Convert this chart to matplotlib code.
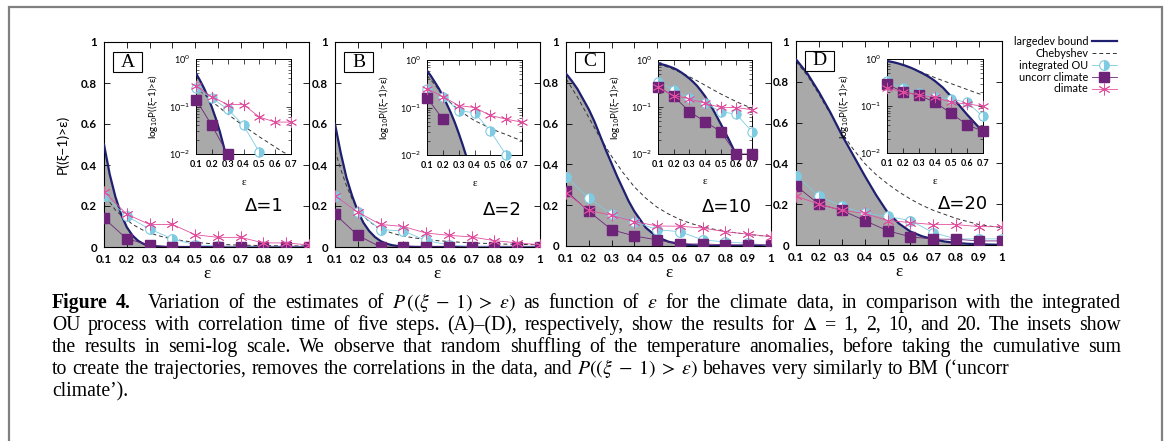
import numpy as np
import matplotlib
matplotlib.use("Agg")
import matplotlib.pyplot as plt
from matplotlib.patches import Rectangle

# ---------------- data ----------------
eps_pts = [0.1, 0.2, 0.3, 0.4, 0.5, 0.6, 0.7, 0.8, 0.9, 1.0]
eps_curve = [0.1, 0.125, 0.15, 0.175, 0.2, 0.225, 0.25, 0.275, 0.3, 0.325, 0.35, 0.375,
             0.4, 0.45, 0.5, 0.55, 0.6, 0.65, 0.7, 0.75, 0.8, 0.85, 0.9, 0.95, 1.0]

panel_letters = ["A", "B", "C", "D"]
delta_labels = ["\u0394=1", "\u0394=2", "\u0394=10", "\u0394=20"]

largedev_A = [0.50, 0.355, 0.245, 0.16, 0.097, 0.056, 0.030, 0.0145, 0.0066, 0.0028, 0.0011, 0.0004,
              0.00015, 5e-5, 5e-5, 5e-5, 5e-5, 5e-5, 5e-5, 5e-5, 5e-5, 5e-5, 5e-5, 5e-5, 5e-5]
largedev_B = [0.60, 0.46, 0.34, 0.25, 0.175, 0.118, 0.078, 0.049, 0.029, 0.0165, 0.009, 0.0048,
              0.0025, 0.0006, 0.00012, 5e-5, 5e-5, 5e-5, 5e-5, 5e-5, 5e-5, 5e-5, 5e-5, 5e-5, 5e-5]
largedev_C = [0.845, 0.81, 0.77, 0.72, 0.67, 0.61, 0.54, 0.47, 0.405, 0.34, 0.28, 0.22,
              0.17, 0.09, 0.044, 0.021, 0.0095, 0.004, 0.0016, 0.0006, 0.0002, 5e-5, 5e-5, 5e-5, 5e-5]
largedev_D = [0.91, 0.875, 0.84, 0.795, 0.75, 0.70, 0.65, 0.595, 0.54, 0.49, 0.44, 0.39,
              0.34, 0.245, 0.16, 0.105, 0.066, 0.043, 0.028, 0.017, 0.010, 0.006, 0.0035, 0.002, 0.001]

cheb_A = [0.28, 0.22, 0.18, 0.155, 0.135, 0.11, 0.095, 0.08, 0.07, 0.06, 0.052, 0.045,
          0.039, 0.03, 0.023, 0.018, 0.014, 0.011, 0.009, 0.008, 0.007, 0.006, 0.0055, 0.005, 0.0045]
cheb_B = [0.47, 0.38, 0.30, 0.235, 0.185, 0.15, 0.125, 0.105, 0.09, 0.078, 0.068, 0.06,
          0.053, 0.044, 0.037, 0.031, 0.027, 0.023, 0.020, 0.018, 0.016, 0.014, 0.013, 0.012, 0.011]
cheb_C = [0.82, 0.775, 0.73, 0.68, 0.63, 0.58, 0.53, 0.485, 0.44, 0.40, 0.36, 0.325,
          0.29, 0.235, 0.19, 0.157, 0.13, 0.11, 0.094, 0.082, 0.072, 0.064, 0.057, 0.051, 0.047]
cheb_D = [0.90, 0.865, 0.83, 0.785, 0.74, 0.69, 0.645, 0.595, 0.55, 0.51, 0.47, 0.435,
          0.40, 0.345, 0.30, 0.26, 0.225, 0.195, 0.17, 0.15, 0.13, 0.115, 0.10, 0.092, 0.085]

ou_A = [0.25, 0.15, 0.088, 0.04, 0.011, 0.004, 0.002, 0.001, 0.001, 0.001]
ou_B = [0.25, 0.17, 0.085, 0.078, 0.032, 0.010, 0.002, 0.001, 0.001, 0.001]
ou_C = [0.34, 0.235, 0.155, 0.12, 0.08, 0.07, 0.03, 0.02, 0.013, 0.002]
ou_D = [0.34, 0.24, 0.19, 0.155, 0.14, 0.12, 0.06, 0.03, 0.03, 0.03]

uncorr_A = [0.14, 0.04, 0.01, 0.0, 0.0, 0.0, 0.0, 0.0, 0.0, 0.0]
uncorr_B = [0.16, 0.057, 0.0, 0.0, 0.0, 0.0, 0.0, 0.0, 0.0, 0.0]
uncorr_C = [0.27, 0.17, 0.08, 0.049, 0.03, 0.01, 0.01, 0.006, 0.006, 0.006]
uncorr_D = [0.29, 0.20, 0.17, 0.12, 0.07, 0.04, 0.029, 0.028, 0.02, 0.02]

climate_A = [0.27, 0.16, 0.11, 0.11, 0.06, 0.047, 0.047, 0.02, 0.02, 0.01]
climate_B = [0.25, 0.17, 0.11, 0.10, 0.068, 0.057, 0.049, 0.031, 0.02, 0.011]
climate_C = [0.26, 0.175, 0.15, 0.12, 0.098, 0.097, 0.088, 0.07, 0.058, 0.046]
climate_D = [0.24, 0.20, 0.17, 0.155, 0.12, 0.11, 0.10, 0.10, 0.09, 0.09]

main_xticks = [0.1, 0.2, 0.3, 0.4, 0.5, 0.6, 0.7, 0.8, 0.9, 1.0]
main_xticklabels = ["0.1", "0.2", "0.3", "0.4", "0.5", "0.6", "0.7", "0.8", "0.9", "1"]
main_yticks = [0, 0.2, 0.4, 0.6, 0.8, 1.0]
main_yticklabels = ["0", "0.2", "0.4", "0.6", "0.8", "1"]
inset_xticks = [0.1, 0.2, 0.3, 0.4, 0.5, 0.6, 0.7]
inset_xticklabels = ["0.1", "0.2", "0.3", "0.4", "0.5", "0.6", "0.7"]
inset_yticks = [1e-2, 1e-1, 1e0]
inset_yticklabels = ["10$^{-2}$", "10$^{-1}$", "10$^{0}$"]

legend_labels = ["largedev bound", "Chebyshev", "integrated OU", "uncorr climate", "climate"]

caption_bold = "Figure 4."
caption_lines = [
    "Variation of the estimates of $P\\,((\\xi\\;-\\;1)\\;>\\;\\varepsilon)$ as function of $\\varepsilon$ for the climate data, in comparison with the integrated",
    "OU process with correlation time of five steps. (A)\u2013(D), respectively, show the results for $\\Delta$ = 1, 2, 10, and 20. The insets show",
    "the results in semi-log scale. We observe that random shuffling of the temperature anomalies, before taking the cumulative sum",
    "to create the trajectories, removes the correlations in the data, and $P((\\xi\\;-\\;1)\\;>\\;\\varepsilon)$ behaves very similarly to BM (\u2018uncorr",
    "climate\u2019).",
]
caption_justified = [True, True, True, False, False]

largedev_all = [largedev_A, largedev_B, largedev_C, largedev_D]
cheb_all = [cheb_A, cheb_B, cheb_C, cheb_D]
ou_all = [ou_A, ou_B, ou_C, ou_D]
uncorr_all = [uncorr_A, uncorr_B, uncorr_C, uncorr_D]
climate_all = [climate_A, climate_B, climate_C, climate_D]

# ---------------- style ----------------
W, H = 1165, 441
plt.rcParams["font.family"] = ["Lato", "DejaVu Sans"]
plt.rcParams["mathtext.fontset"] = "dejavusans"

C_NAVY = "#1f1f70"
C_CYAN = "#7fcbe2"
C_PURPLE = "#6c2378"
C_PINK = "#e0509f"
C_FILL = "#a9a9a9"

fig = plt.figure(figsize=(W / 100, H / 100), dpi=100)

def px_axes(l, r, t, b):
    return fig.add_axes([l / W, 1 - b / H, (r - l) / W, (b - t) / H])

main_boxes = [(104, 309, 42, 247), (335, 540, 42, 247), (566, 771, 42, 246), (796, 1002, 41, 245)]
inset_boxes = [(196, 291, 59, 154), (427, 522, 60, 155), (658, 752, 60, 154), (887, 983, 59, 153)]
delta_pos = [(0.875, 0.20), (0.91, 0.18), (0.905, 0.19), (0.93, 0.20)]


def draw_series(ax, i, inset=False, ms_scale=1.0):
    x = np.array(eps_curve)
    ld = np.array(largedev_all[i])
    ch = np.array(cheb_all[i])
    floor = 1e-4 if inset else 0.0
    ax.fill_between(x, floor, ld, color=C_FILL, lw=0, zorder=1)
    ax.plot(x, ch, ls=(0, (4, 3)), color="#333333", lw=0.7, zorder=2)
    ax.plot(x, ld, color=C_NAVY, lw=1.6, zorder=3)
    xp = np.array(eps_pts)
    ou = np.array(ou_all[i], dtype=float)
    un = np.array(uncorr_all[i], dtype=float)
    cl = np.array(climate_all[i], dtype=float)
    kw = {}
    if inset:
        sel = xp <= 0.7001
        xp = xp[sel]
        ou = np.where(ou[sel] >= 0.0099, ou[sel], np.nan)
        un = np.where(un[sel] >= 0.0099, un[sel], np.nan)
        cl = np.where(cl[sel] >= 0.0099, cl[sel], np.nan)
        kw = dict(clip_on=False)
    h_ou, = ax.plot(xp, ou, color=C_CYAN, lw=0.6, marker="o", ms=7 * ms_scale,
                    fillstyle="right", markerfacecolor=C_CYAN, markerfacecoloralt="white",
                    markeredgecolor=C_CYAN, markeredgewidth=0.8, zorder=4, **kw)
    h_un, = ax.plot(xp, un, color=C_PURPLE, lw=0.6, marker="s", ms=7 * ms_scale,
                    markerfacecolor=C_PURPLE, markeredgecolor=C_PURPLE, zorder=5, **kw)
    h_cl, = ax.plot(xp, cl, color=C_PINK, lw=0.6, marker=(6, 2, 0), ms=8.5 * ms_scale,
                    markeredgecolor=C_PINK, markeredgewidth=0.6, zorder=6, **kw)
    return h_ou, h_un, h_cl


handles = None
for i in range(4):
    ax = px_axes(*main_boxes[i])
    h_ou, h_un, h_cl = draw_series(ax, i)
    ax.set_xlim(0.1, 1.0)
    ax.set_ylim(0, 1)
    ax.set_xticks(main_xticks)
    ax.set_xticklabels(main_xticklabels)
    ax.set_yticks(main_yticks)
    ax.set_yticklabels(main_yticklabels)
    ax.tick_params(direction="in", top=True, right=True, length=4, width=0.6,
                   labelsize=8.3, pad=5)
    for lab in ax.get_xticklabels() + ax.get_yticklabels():
        lab.set_fontweight("bold")
    for s in ax.spines.values():
        s.set_linewidth(0.8)
    ax.set_xlabel("\u03b5", fontsize=12.5, family=["Liberation Serif", "DejaVu Serif"])
    ax.xaxis.set_label_coords(0.5, -0.095)
    if i == 0:
        ax.set_ylabel("P((\u03be\u22121)>\u03b5)", fontsize=10)
        ax.yaxis.set_label_coords(-0.17, 0.5)
    # panel letter box
    ax.add_patch(Rectangle((0.044, 0.853), 0.141, 0.098, transform=ax.transAxes,
                           facecolor="white", edgecolor="black", lw=0.8, zorder=10))
    ax.text(0.1145, 0.902, panel_letters[i], transform=ax.transAxes, ha="center", va="center",
            fontsize=14, family=["Liberation Serif"], zorder=11)
    ax.text(delta_pos[i][0], delta_pos[i][1], delta_labels[i], transform=ax.transAxes,
            ha="right", va="center", fontsize=13, family=["DejaVu Sans"], zorder=11)
    if i == 3:
        handles = [ax.lines[1], ax.lines[0], h_ou, h_un, h_cl]

    # inset
    ia = px_axes(*inset_boxes[i])
    ia.set_yscale("log", nonpositive="mask")
    draw_series(ia, i, inset=True, ms_scale=0.95)
    ia.set_xlim(0.1, 0.7)
    ia.set_ylim(1e-2, 1e0)
    ia.set_xticks(inset_xticks)
    ia.set_xticklabels(inset_xticklabels)
    ia.set_yticks(inset_yticks)
    ia.set_yticklabels(inset_yticklabels)
    ia.tick_params(which="both", direction="in", top=True, right=True, labelsize=6.5, pad=4)
    ia.tick_params(which="major", length=3.5, width=0.5)
    ia.tick_params(which="minor", length=2, width=0.4)
    for lab in ia.get_xticklabels():
        lab.set_fontweight("bold")
    for s in ia.spines.values():
        s.set_linewidth(0.7)
    ia.set_xlabel("\u03b5", fontsize=8, family=["Liberation Serif", "DejaVu Serif"])
    ia.xaxis.set_label_coords(0.5, -0.25)
    ia.set_ylabel("log$_{10}$P((\u03be\u22121)>\u03b5)", fontsize=7)
    ia.yaxis.set_label_coords(-0.38, 0.5)
    ia.set_zorder(20)

leg = fig.legend(handles, legend_labels, loc="upper left",
                 bbox_to_anchor=(1014 / W, 1 - 36 / H), frameon=False, markerfirst=False,
                 fontsize=7.8, handlelength=2.3, handletextpad=0.3, labelspacing=0.08,
                 borderpad=0, borderaxespad=0)

# frame
fig.add_artist(Rectangle((9 / W, -0.1), (1162 - 9) / W, 1.1 - 7 / H,
                         transform=fig.transFigure, fill=False, edgecolor="#808080", lw=1.6))

# caption (justified like the reference)
cap_family = ["Liberation Serif", "DejaVu Serif"]
baselines = [308, 330, 352, 374, 396]
x0 = 52
x_full_end = 1121
x_line4_end = 1003


def caption_tokens(k):
    toks = [(w, False) for w in caption_lines[k].split(" ")]
    if k == 0:
        toks = [(w, True) for w in caption_bold.split(" ")] + toks
    return toks


def measure(size, k, r):
    widths = []
    for w, bold in caption_tokens(k):
        t = fig.text(0, 0, w, fontsize=size, family=cap_family,
                     fontweight="bold" if bold else "normal", math_fontfamily="stix")
        widths.append(t.get_window_extent(r).width)
        t.remove()
    sp = fig.text(0, 0, "a a", fontsize=size, family=cap_family)
    aa = fig.text(0, 0, "aa", fontsize=size, family=cap_family)
    space = sp.get_window_extent(r).width - aa.get_window_extent(r).width
    sp.remove()
    aa.remove()
    return widths, space


fig.canvas.draw()
r = fig.canvas.get_renderer()
size0 = 12.0
w4, sp4 = measure(size0, 3, r)
nat4 = sum(w4) + sp4 * (len(w4) - 1)
cap_size = size0 * (x_line4_end - x0) / nat4

for k in range(5):
    widths, space = measure(cap_size, k, r)
    toks = caption_tokens(k)
    n = len(toks)
    extra = [0.0] * n
    if k == 0:
        extra[1] = 1.0  # double space after "Figure 4."
    if caption_justified[k]:
        total_gaps = (n - 1) + sum(extra)
        gap = (x_full_end - x0 - sum(widths)) / total_gaps
    else:
        gap = space
    x = x0
    for j, (w, bold) in enumerate(toks):
        fig.text(x / W, 1 - baselines[k] / H, w, fontsize=cap_size, family=cap_family,
                 fontweight="bold" if bold else "normal", va="baseline", ha="left",
                 math_fontfamily="stix")
        x += widths[j] + gap * (1 + extra[j])

fig.savefig("out.png", dpi=100)
